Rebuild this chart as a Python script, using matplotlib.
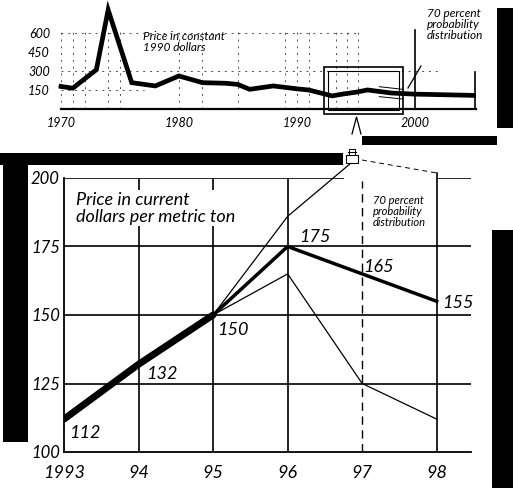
import matplotlib
matplotlib.use("Agg")
import matplotlib.pyplot as plt
from matplotlib.lines import Line2D
from matplotlib.patches import Rectangle

plt.rcParams["font.family"] = "Lato"
plt.rcParams["font.style"] = "italic"

# long-run price, constant 1990 dollars
hist_years = [1970, 1971, 1973, 1974, 1976, 1978, 1980, 1982, 1984, 1985, 1986,
              1988, 1990, 1991, 1993, 1994, 1995, 1996, 1997, 1998, 2000, 2005]
hist_price = [179, 165, 312, 786, 209, 183, 262, 209, 204, 195, 156,
              183, 160, 151, 104, 120, 133, 151, 139, 127, 118, 108]
hist_band_years = [1997, 1999]
hist_band_hi = [177, 156]
hist_band_lo = [98, 79]
hist_yticks = [150, 300, 450, 600]
hist_xticks = [1970, 1980, 1990, 2000]

# close-up, current dollars per metric ton
years = [1993, 1994, 1995, 1996, 1997, 1998]
year_labels = ["1993", "94", "95", "96", "97", "98"]
price = [112, 132, 150, 175, 165, 155]
upper_years = [1995, 1996, 1996.83]
upper = [150, 186, 205]
lower_years = [1995, 1996, 1997, 1998]
lower = [150, 165, 125, 112]
yticks = [100, 125, 150, 175, 200]

# label offsets in points (style only)
label_off = [(15, -10), (17, -7), (14, -11), (20, 7), (12, 5), (15, -1)]

W, H = 513, 488
fig = plt.figure(figsize=(W / 100, H / 100), dpi=100)


def fx(p):
    return p / W


def fy(p):
    return 1 - p / H


def fline(xs, ys, **kw):
    fig.add_artist(Line2D([fx(x) for x in xs], [fy(y) for y in ys],
                          transform=fig.transFigure, color="black", **kw))


def frect(x0, y0, x1, y1, **kw):
    fig.add_artist(Rectangle((fx(x0), fy(y1)), (x1 - x0) / W, (y1 - y0) / H,
                             transform=fig.transFigure, **kw))


# ---- top panel ----
ax1 = fig.add_axes([fx(61), fy(109), (476 - 61) / W, (109 - 2) / H])
ax1.set_xlim(1970, 2005.2)
ax1.set_ylim(0, 849)
ax1.patch.set_visible(False)
for s in ["top", "right", "left"]:
    ax1.spines[s].set_visible(False)
ax1.spines["bottom"].set_linewidth(1.6)

dash = dict(color="0.3", lw=0.7, dashes=(2, 5))
for yr in [1970, 1971, 1972, 1974, 1975, 1980, 1982, 1985, 1989, 1990, 1991,
           1993.3, 1994.3, 1995.2]:
    ax1.plot([yr, yr], [0, 620], **dash)
ax1.plot([1970, 1995], [600, 600], **dash)
ax1.plot([1970, 2002], [300, 300], **dash)
ax1.plot([1970, 1977], [150, 150], **dash)
ax1.plot([2000, 2000], [0, 627], color="black", lw=1.2)
ax1.plot([2005.1, 2005.1], [0, 294], color="black", lw=1.2)

ax1.plot(hist_years, hist_price, color="black", lw=3.4, clip_on=False,
         solid_joinstyle="miter")
ax1.plot(hist_band_years, hist_band_hi, color="black", lw=0.7)
ax1.plot(hist_band_years, hist_band_lo, color="black", lw=0.7)

ax1.set_yticks(hist_yticks)
ax1.set_yticklabels([str(v) for v in hist_yticks], fontsize=9)
ax1.set_xticks(hist_xticks)
ax1.set_xticklabels([str(v) for v in hist_xticks], fontsize=9)
ax1.tick_params(length=0)
ax1.tick_params(axis="y", pad=8)
ax1.tick_params(axis="x", pad=6)

fig.text(fx(143), fy(31), "Price in constant\n1990 dollars", fontsize=8.5,
         va="top", ha="left", linespacing=1.05)
fig.text(fx(427), fy(8), "70 percent\nprobability\ndistribution", fontsize=8.5,
         va="top", ha="left", linespacing=1.0)
fline([421, 408], [66, 88], lw=0.9)

# highlight box around 1993-98
frect(324, 67, 403, 114, fill=False, ec="black", lw=1.2)
frect(328, 71, 399, 110, fill=False, ec="black", lw=0.8)

# ---- bottom panel ----
ax2 = fig.add_axes([fx(64), fy(452), (471 - 64) / W, (452 - 178) / H])
ax2.set_xlim(1993, 1998.46)
ax2.set_ylim(100, 200)
ax2.patch.set_visible(False)
for s in ["top", "right"]:
    ax2.spines[s].set_visible(False)
ax2.spines["left"].set_linewidth(1.3)
ax2.spines["bottom"].set_linewidth(1.3)

for v in [125, 150, 175]:
    ax2.axhline(v, color="black", lw=1.2)
ax2.hlines(200, 1993, 1996.75, color="black", lw=1.2)
ax2.hlines(200, 1998, 1998.46, color="black", lw=1.2)
for yr in [1994, 1995, 1996]:
    ax2.axvline(yr, color="black", lw=1.2)
ax2.plot([1998, 1998], [100, 201.8], color="black", lw=1.2, clip_on=False)
ax2.plot([1997, 1997], [100, 199], color="black", lw=1.0, dashes=(6, 4))

ax2.plot(upper_years, upper, color="black", lw=0.9, clip_on=False)
ax2.plot(lower_years, lower, color="black", lw=0.9)
ax2.plot(years[:3], price[:3], color="black", lw=5, solid_capstyle="round")
ax2.plot(years[2:], price[2:], color="black", lw=2.5, solid_joinstyle="miter")

for x, y, off in zip(years, price, label_off):
    ax2.annotate(str(y), (x, y), xytext=off, textcoords="offset points",
                 fontsize=13, ha="center", va="center")

ax2.set_xticks(years)
ax2.set_xticklabels(year_labels, fontsize=13)
ax2.set_yticks(yticks)
ax2.set_yticklabels([str(v) for v in yticks], fontsize=12)
ax2.tick_params(length=0)
ax2.tick_params(axis="x", pad=9)
ax2.tick_params(axis="y", pad=3)

ax2.text(0.03, 0.95, "Price in current\ndollars per metric ton", transform=ax2.transAxes,
         fontsize=13, va="top", ha="left", linespacing=1.1,
         bbox=dict(fc="white", ec="none", pad=1))
fig.text(fx(373), fy(195), "70 percent\nprobability\ndistribution", fontsize=8,
         va="top", ha="left", linespacing=1.0,
         bbox=dict(fc="white", ec="none", pad=1))

# magnifier / pointer between panels
fline([352, 356.5, 361], [134, 117, 134], lw=0.9)
frect(346, 155, 358, 163, fill=False, ec="black", lw=0.8)
fline([348, 356], [152, 152], lw=0.8)
fline([349, 349, 355, 355], [155, 149, 149, 155], lw=0.7)
fline([362, 437], [160, 173], lw=0.7, dashes=(5, 4))

# black framing bands from the scan
black = dict(fc="black", ec="none")
frect(3, 153, 28, 442, **black)
frect(0, 153, 343, 165, **black)
frect(497, 8, 513, 128, **black)
frect(362, 136, 497, 145, **black)
frect(492, 230, 513, 488, **black)

fig.savefig("out.png", dpi=100)
